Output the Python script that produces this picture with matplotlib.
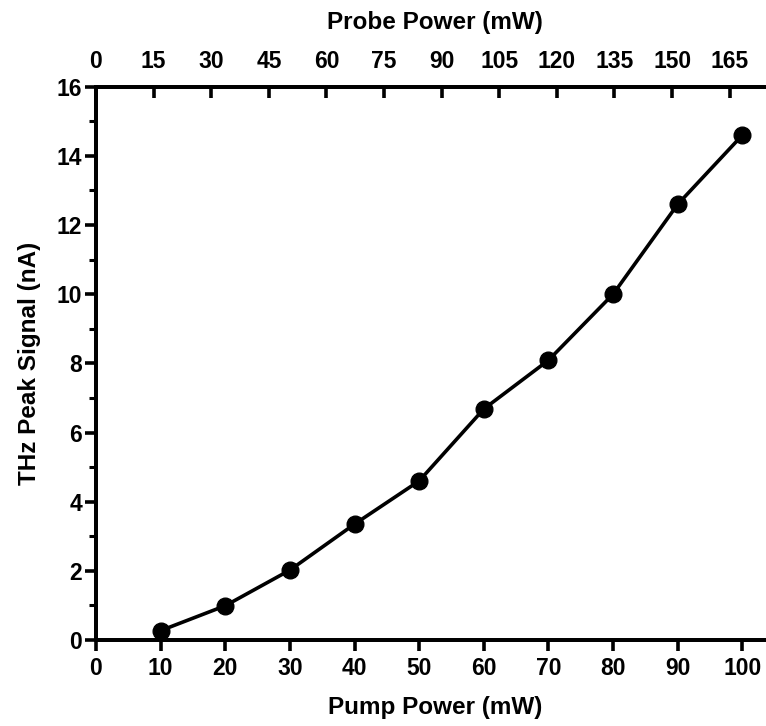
import numpy as np
import matplotlib.pyplot as plt

plt.rcParams['font.family'] = ['Liberation Sans', 'DejaVu Sans']
plt.rcParams['font.weight'] = 'bold'

pump_power = [10, 20, 30, 40, 50, 60, 70, 80, 90, 100]
thz_signal = [0.27, 0.99, 2.02, 3.35, 4.6, 6.68, 8.09, 10.0, 12.6, 14.6]
pump_ticks = np.arange(0, 101, 10)
probe_ticks = np.arange(0, 166, 15)

fig = plt.figure(figsize=(7.66, 7.26), dpi=100)
ax = fig.add_axes([0.1253, 0.1185, 0.886, 0.762])

ax.plot(pump_power, thz_signal, '-o', color='black', lw=2.6, ms=12)
ax.set_xlim(0, 105)
ax.set_ylim(0, 16)
ax.set_xticks(pump_ticks)
ax.set_yticks(np.arange(0, 17, 2))
ax.set_yticks(np.arange(1, 16, 2), minor=True)

for s in ax.spines.values():
    s.set_linewidth(2.6)

ax.tick_params(axis='x', which='major', direction='out', length=8, width=2.6,
               labelsize=16.5, pad=4, top=False)
ax.tick_params(axis='y', which='major', direction='out', length=8, width=2.6,
               labelsize=16.5, pad=2)
ax.tick_params(axis='y', which='minor', direction='out', length=5, width=2.2)

ax.set_xlabel('Pump Power (mW)', fontsize=17.5, fontweight='bold', labelpad=12)
ax.set_ylabel('THz Peak Signal (nA)', fontsize=17.5, fontweight='bold', labelpad=11)

# right ticks (spine falls outside the figure)
ax_r = ax.twinx()
ax_r.set_ylim(0, 16)
ax_r.set_yticks(np.arange(0, 17, 2))
ax_r.tick_params(axis='y', direction='in', length=5.5, width=2.6, labelright=False)
for s in ax_r.spines.values():
    s.set_linewidth(2.6)

# top axis: probe power
ax_t = ax.twiny()
ax_t.set_xlim(0, 176.7)
ax_t.set_xticks(probe_ticks)
ax_t.tick_params(axis='x', direction='in', length=8, width=2.6, labelsize=16.5, pad=10)
ax_t.set_xlabel('Probe Power (mW)', fontsize=17.5, fontweight='bold', labelpad=15)
for s in ax_t.spines.values():
    s.set_linewidth(2.6)

fig.savefig('out.png', dpi=100)
